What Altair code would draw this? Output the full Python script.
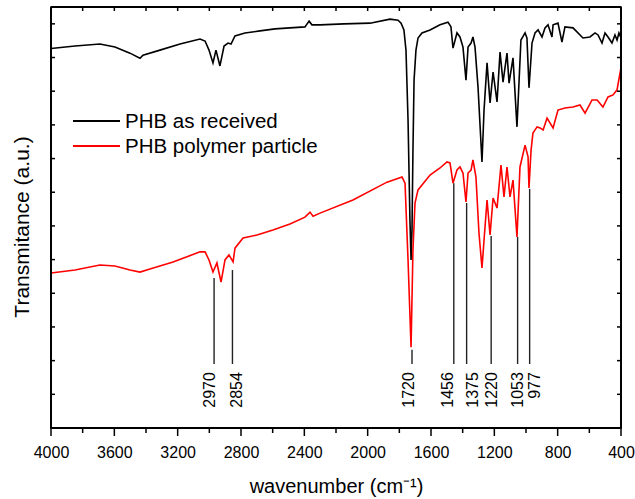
import altair as alt
import pandas as pd

# ---------------- data ----------------
black_wn = [4000, 3848, 3691, 3596, 3501, 3438, 3419, 3312, 3185, 3059, 3027, 3002,
            2977, 2958, 2933, 2907, 2882, 2863, 2838, 2775, 2680, 2585, 2491, 2396,
            2370, 2352, 2301, 2150, 1985, 1859, 1808, 1789, 1771, 1758, 1745, 1733,
            1726, 1720, 1714, 1707, 1695, 1682, 1657, 1606, 1543, 1493, 1474, 1461,
            1436, 1417, 1398, 1379, 1366, 1347, 1335, 1322, 1303, 1278, 1265, 1246,
            1227, 1208, 1183, 1164, 1145, 1120, 1107, 1082, 1057, 1032, 1006, 994,
            981, 962, 943, 924, 899, 880, 861, 836, 829, 798, 773, 754, 703, 640,
            596, 564, 545, 520, 501, 482, 457, 438, 425, 413, 400]
black_t = [11.27, 11.34, 11.40, 11.31, 11.13, 10.98, 11.07, 11.22, 11.40, 11.55, 11.49, 11.22,
           10.84, 11.22, 10.75, 11.34, 11.43, 11.40, 11.64, 11.73, 11.79, 11.85, 11.88, 11.91,
           12.08, 11.97, 11.97, 12.00, 12.02, 12.14, 12.11, 12.02, 11.82, 11.22, 9.14, 6.18,
           4.99, 5.88, 8.25, 10.33, 11.22, 11.58, 11.73, 11.82, 11.97, 12.05, 11.91, 11.28,
           11.73, 11.61, 11.31, 10.33, 11.31, 11.43, 11.61, 11.31, 10.12, 7.90, 9.44, 10.84,
           9.65, 10.57, 9.68, 11.16, 10.27, 11.13, 10.24, 10.99, 8.94, 11.52, 11.73, 11.58,
           10.10, 11.43, 11.73, 11.82, 11.61, 11.88, 11.97, 11.61, 11.97, 12.02, 11.46, 11.91, 11.88, 11.58,
           11.61, 11.73, 11.67, 11.43, 11.73, 11.61, 11.43, 11.67, 11.52, 11.73, 11.58]

red_wn = [4000, 3848, 3691, 3596, 3501, 3438, 3375, 3229, 3059, 3027, 3002, 2977,
          2952, 2926, 2901, 2876, 2850, 2838, 2787, 2699, 2598, 2491, 2396, 2364,
          2345, 2301, 2093, 1878, 1783, 1764, 1745, 1726, 1714, 1701, 1682, 1606,
          1543, 1499, 1480, 1461, 1436, 1417, 1398, 1379, 1366, 1347, 1335, 1316,
          1297, 1278, 1265, 1246, 1227, 1208, 1183, 1158, 1139, 1120, 1101, 1082,
          1057, 1038, 1006, 987, 981, 968, 956, 930, 911, 892, 867, 829, 798, 754,
          703, 659, 627, 583, 551, 514, 482, 450, 425, 406, 400]
red_t = [4.60, 4.69, 4.84, 4.81, 4.69, 4.63, 4.72, 4.93, 5.23, 5.23, 4.99, 4.63,
         4.90, 4.33, 4.99, 5.14, 4.93, 5.34, 5.64, 5.73, 5.88, 6.06, 6.26, 6.41,
         6.29, 6.38, 6.77, 7.30, 7.45, 7.27, 4.99, 2.40, 5.28, 6.68, 7.07, 7.51,
         7.72, 7.90, 7.87, 7.27, 7.66, 7.75, 7.57, 6.71, 7.57, 7.66, 7.96, 7.45,
         5.79, 4.75, 5.58, 6.77, 5.73, 6.83, 6.53, 7.81, 6.86, 7.75, 6.86, 7.36,
         5.67, 7.75, 8.40, 8.05, 7.13, 8.25, 8.76, 8.94, 8.91, 8.85, 9.20, 8.91, 9.44, 9.50,
         9.53, 9.59, 9.35, 9.74, 9.74, 9.53, 9.83, 9.89, 10.04, 10.54, 10.69]

series_names = ["PHB as received", "PHB polymer particle"]
series_colors = ["#000000", "#ff0000"]

peak_wn = [2970, 2854, 1720, 1456, 1375, 1220, 1053, 977]
peak_top = [4.45, 4.69, 2.32, 7.27, 6.68, 5.70, 5.67, 7.10]

x_label_values = [4000, 3600, 3200, 2800, 2400, 2000, 1600, 1200, 800, 400]
x_minor_values = [3800, 3400, 3000, 2600, 2200, 1800, 1400, 1000, 600]
x_all_ticks = sorted(x_label_values + x_minor_values, reverse=True)
y_tick_values = list(range(1, 13))

# ---------------- layout ----------------
W, H = 570, 421
X_MIN, X_MAX = 400, 4000
Y_MAX = 12.5
FONT = "Liberation Sans"
rule_bottom = 1.90
label_top = 1.66
wn_per_px = (X_MAX - X_MIN) / W
t_per_px = Y_MAX / H
label_nudge_px = [-4, 5, -3, -6, 6, 1, 0, 5]
IN_TICK = 4  # px, inward ticks on top / left / right

xs = alt.Scale(domain=[X_MIN, X_MAX], reverse=True, nice=False, zero=False)
ys = alt.Scale(domain=[0, Y_MAX], nice=False, zero=False)

x_axis = alt.Axis(values=x_label_values, ticks=False, tickSize=0, domain=False, grid=False,
                  labelFontSize=16, labelFont=FONT, labelColor="black", labelPadding=29,
                  labelBaseline="alphabetic", labelFlush=False, labelOverlap=False, format="d",
                  title="wavenumber (cm⁻¹)", titleFont=FONT, titleFontSize=20,
                  titleFontWeight="normal", titleColor="black", titleX=W / 2, titleY=64,
                  titleBaseline="alphabetic", titleAlign="center")
y_axis = alt.Axis(labels=False, ticks=False, domain=False, grid=False,
                  title="Transmitance (a.u.)", titleFont=FONT, titleFontSize=21,
                  titleFontWeight="normal", titleColor="black", titleX=-19, titleY=219.5,
                  titleAngle=270, titleBaseline="bottom", titleAlign="center")


def X(field):
    return alt.X(field, scale=xs, axis=x_axis)


def Y(field):
    return alt.Y(field, scale=ys, axis=y_axis)


black_df = pd.DataFrame({"wn": black_wn, "t": black_t})
red_df = pd.DataFrame({"wn": red_wn, "t": red_t})

black_line = alt.Chart(black_df).mark_line(color=series_colors[0], strokeWidth=1.6).encode(
    x=X("wn:Q"), y=Y("t:Q"))
red_line = alt.Chart(red_df).mark_line(color=series_colors[1], strokeWidth=1.6).encode(
    x=X("wn:Q"), y=Y("t:Q"))

peaks_df = pd.DataFrame({
    "wn": peak_wn,
    "top": peak_top,
    "label": [str(p) for p in peak_wn],
    "label_wn": [w - n * wn_per_px for w, n in zip(peak_wn, label_nudge_px)],
})
peak_rules = alt.Chart(peaks_df).mark_rule(color="#222222", strokeWidth=1.4).encode(
    x=X("wn:Q"), y=Y("top:Q"), y2=alt.datum(rule_bottom))
peak_text = alt.Chart(peaks_df).mark_text(angle=270, align="right", baseline="middle",
                                          fontSize=16, font=FONT, color="black").encode(
    x=X("label_wn:Q"), y=alt.datum(label_top), text="label:N")

# ticks (through the scales)
xt_df = pd.DataFrame({"wn": x_all_ticks})
xl_df = pd.DataFrame({"wn": x_label_values})
xm_df = pd.DataFrame({"wn": x_minor_values})
yt_df = pd.DataFrame({"v": y_tick_values})
tick_style = dict(color="black", strokeWidth=1.5)
top_ticks = alt.Chart(xt_df).mark_rule(**tick_style).encode(
    x=alt.X("wn:Q", scale=xs, axis=x_axis), y=alt.value(0), y2=alt.value(IN_TICK))
bottom_major = alt.Chart(xl_df).mark_rule(**tick_style).encode(
    x=X("wn:Q"), y=alt.value(H), y2=alt.value(H + 8))
bottom_minor = alt.Chart(xm_df).mark_rule(**tick_style).encode(
    x=X("wn:Q"), y=alt.value(H), y2=alt.value(H + 5))
left_ticks = alt.Chart(yt_df).mark_rule(**tick_style).encode(
    y=Y("v:Q"), x=alt.value(0), x2=alt.value(IN_TICK))
right_ticks = alt.Chart(yt_df).mark_rule(**tick_style).encode(
    y=Y("v:Q"), x=alt.value(W - IN_TICK), x2=alt.value(W))

# frame: four rules, same pattern as the edges that render
k = pd.DataFrame({"k": [0]})
frame_style = dict(color="black", strokeWidth=2)
frame = [
    alt.Chart(k).mark_rule(**frame_style).encode(x=alt.value(0), x2=alt.value(W), y=alt.value(0)),
    alt.Chart(k).mark_rule(**frame_style).encode(y=alt.value(0), y2=alt.value(H), x=alt.value(W)),
    alt.Chart(k).mark_rule(**frame_style).encode(y=alt.value(0), y2=alt.value(H), x=alt.value(0)),
    alt.Chart(k).mark_rule(**frame_style).encode(x=alt.value(0), x2=alt.value(W), y=alt.value(H)),
]

# legend
legend_layers = []
for i, (name, col) in enumerate(zip(series_names, series_colors)):
    ldf = pd.DataFrame({"s": [name]})
    legend_layers.append(alt.Chart(ldf).mark_rule(color=col, strokeWidth=2).encode(
        x=alt.value(22), x2=alt.value(69), y=alt.value(114 + 25 * i)))
    legend_layers.append(alt.Chart(ldf).mark_text(align="left", baseline="alphabetic",
                                                  fontSize=20.5, font=FONT, color="black").encode(
        x=alt.value(74), y=alt.value(121 + 25 * i), text="s:N"))

chart = alt.layer(
    black_line, red_line, peak_rules, peak_text,
    *frame, top_ticks, bottom_major, bottom_minor, left_ticks, right_ticks,
    *legend_layers,
).properties(
    width=W, height=H,
    autosize=alt.AutoSizeParams(type="none"),
    padding={"left": 51, "top": 7, "right": 14, "bottom": 71},
    background="white",
).configure_view(stroke="black", strokeWidth=1.5)

chart.save("out.html", embed_options={"renderer": "svg", "actions": False})
